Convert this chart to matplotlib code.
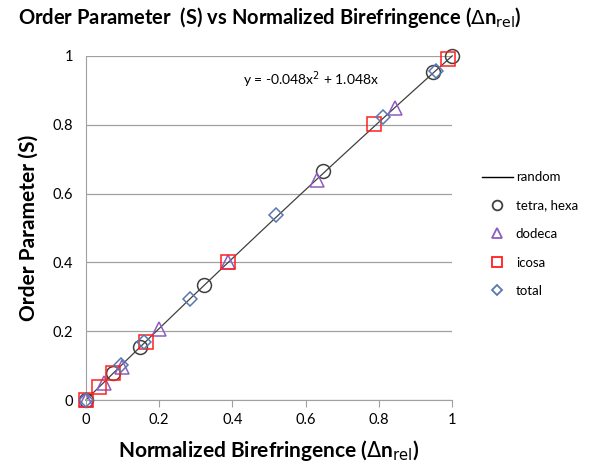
import numpy as np
import matplotlib
matplotlib.use("Agg")
import matplotlib.pyplot as plt
from matplotlib.lines import Line2D

plt.rcParams['font.family'] = ['Lato', 'DejaVu Sans']

# fit curve coefficients (y = a x^2 + b x)
fit_a = -0.048
fit_b = 1.048

tetra_x = [0.0, 0.073, 0.148, 0.322, 0.648, 0.948, 0.998]
tetra_y = [0.0, 0.078, 0.154, 0.334, 0.666, 0.953, 1.0]

dodeca_x = [0.0, 0.05, 0.10, 0.20, 0.388, 0.63, 0.845]
dodeca_y = [0.0, 0.049, 0.097, 0.206, 0.40, 0.64, 0.849]

icosa_x = [0.0, 0.036, 0.073, 0.164, 0.388, 0.787, 0.989]
icosa_y = [0.0, 0.038, 0.078, 0.169, 0.40, 0.802, 0.991]

total_x = [0.0, 0.097, 0.16, 0.284, 0.52, 0.81, 0.955]
total_y = [0.0, 0.102, 0.17, 0.293, 0.538, 0.823, 0.956]

xticks = [0, 0.2, 0.4, 0.6, 0.8, 1]
yticks = [0, 0.2, 0.4, 0.6, 0.8, 1]
xtick_labels = ['0', '0.2', '0.4', '0.6', '0.8', '1']
ytick_labels = ['0', '0.2', '0.4', '0.6', '0.8', '1']

fig = plt.figure(figsize=(5.92, 4.69), dpi=100)
ax = fig.add_axes([0.145, 0.147, 0.619, 0.734])

xs = np.linspace(0, 1, 200)
ax.plot(xs, fit_a * xs**2 + fit_b * xs, color='#404040', lw=0.9, zorder=2)

ms = 10
ax.plot(tetra_x, tetra_y, 'o', mfc='none', mec='#404040', mew=1.1, ms=ms, zorder=3)
ax.plot(dodeca_x, dodeca_y, '^', mfc='none', mec='#8E5CC0', mew=1.1, ms=ms, zorder=3)
ax.plot(icosa_x, icosa_y, 's', mfc='none', mec='#FF2020', mew=1.1, ms=ms, zorder=3)
ax.plot(total_x, total_y, 'D', mfc='none', mec='#5A78B0', mew=1.1, ms=7.5, zorder=3)

ax.set_xlim(0, 1)
ax.set_ylim(0, 1)
ax.set_xticks(xticks)
ax.set_xticklabels(xtick_labels)
ax.set_yticks(yticks)
ax.set_yticklabels(ytick_labels)
ax.yaxis.grid(True, color='#A0A0A0', lw=0.9)
ax.set_axisbelow(True)
for s in ['top', 'right']:
    ax.spines[s].set_visible(False)
for s in ['left', 'bottom']:
    ax.spines[s].set_color('#A0A0A0')
ax.tick_params(axis='x', length=5, color='#A0A0A0', labelsize=10.5, pad=4)
ax.tick_params(axis='y', length=0, labelsize=10.5, pad=9)
for l in ax.lines:
    l.set_clip_on(False)

ax.text(0.43, 0.93, r'y = -0.048x$^2$ + 1.048x', transform=ax.transAxes,
        fontsize=10, ha='left', va='center')

fig.text(0.455, 0.962, r'Order Parameter  (S) vs Normalized Birefringence ($\Delta$n$_{\mathrm{rel}}$)',
         ha='center', va='center', fontsize=14.5, fontweight='bold')
ax.set_xlabel(r'Normalized Birefringence ($\Delta$n$_{\mathrm{rel}}$)', fontsize=15,
              fontweight='bold', labelpad=8)
ax.set_ylabel('Order Parameter (S)', fontsize=15, fontweight='bold', labelpad=10)

handles = [
    Line2D([], [], color='black', lw=1),
    Line2D([], [], ls='none', marker='o', mfc='none', mec='#404040', mew=1.3, ms=7),
    Line2D([], [], ls='none', marker='^', mfc='none', mec='#8E5CC0', mew=1.3, ms=7),
    Line2D([], [], ls='none', marker='s', mfc='none', mec='#FF2020', mew=1.3, ms=7),
    Line2D([], [], ls='none', marker='D', mfc='none', mec='#5A78B0', mew=1.3, ms=5.5),
]
labels = ['random', 'tetra, hexa', 'dodeca', 'icosa', 'total']
fig.legend(handles, labels, loc='upper left', bbox_to_anchor=(0.8, 0.652),
           frameon=False, fontsize=9.5, handlelength=2.4, handletextpad=0.2,
           labelspacing=1.25, borderaxespad=0.2)

fig.savefig('out.png', dpi=100)
